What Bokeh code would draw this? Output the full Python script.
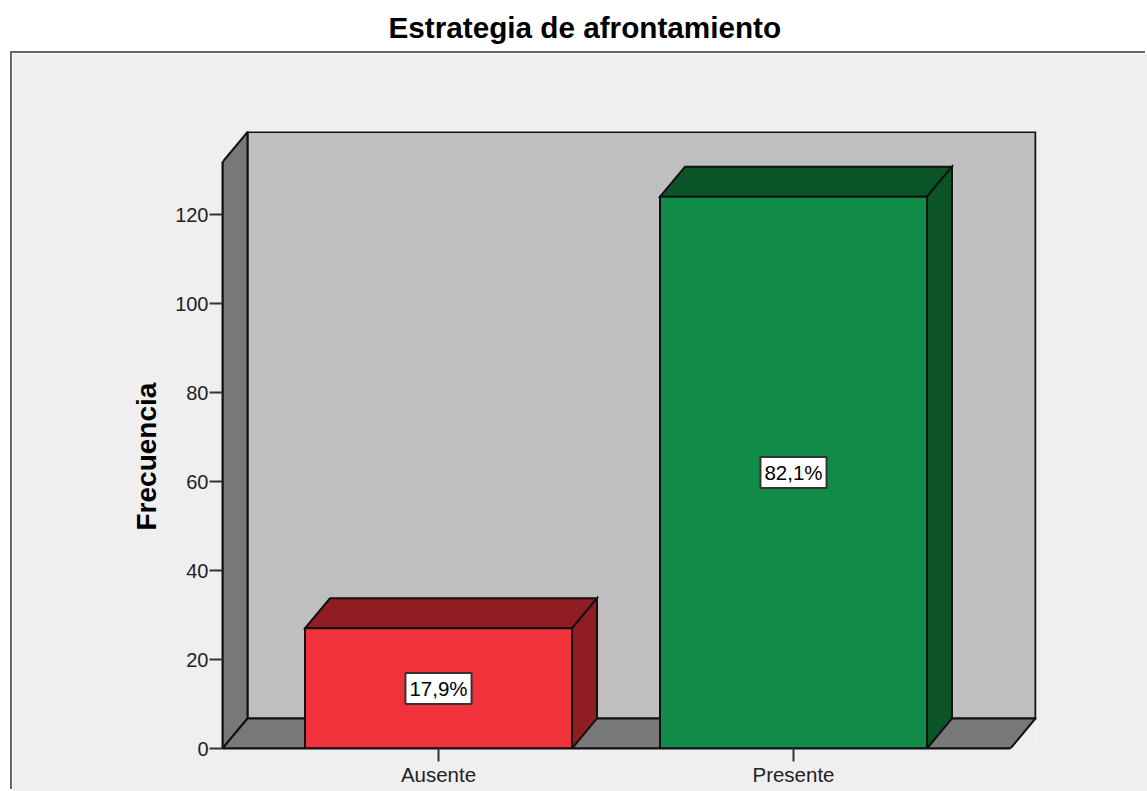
from bokeh.plotting import figure
from bokeh.layouts import column
from bokeh.models import Range1d, FixedTicker, Label, Title
from bokeh.embed import file_html
from bokeh.resources import INLINE

title = "Estrategia de afrontamiento"
y_label = "Frecuencia"
categories = ["Ausente", "Presente"]
counts = [27, 124]
percent_labels = ["17,9%", "82,1%"]
y_ticks = [0, 20, 40, 60, 80, 100, 120]

front_colors = ["#F2323A", "#108C48"]
side_colors = ["#8F1D21", "#0A5428"]
WALL = "#BFBFBF"
SIDE = "#787878"
PANEL = "#EFEFEF"
FONT = "Liberation Sans"

# Scale: 355 px per category, 4.45 px per count
PX_X = 355.0
PX_Y = 4.45
dx = 25 / PX_X          # 3D depth in x units
dy = 30 / PX_Y          # 3D depth in y units
bar_w = 267 / PX_X
x_min = -216 / PX_X
x_axis_end = 572 / PX_X
x_max = 598 / PX_X
y_wall = 131.8          # height of the front edge of the left wall

head = figure(
    width=1147, height=53, output_backend="svg", toolbar_location=None,
    x_axis_type=None, y_axis_type=None, min_border=0,
    border_fill_color="white", background_fill_color="white", outline_line_color=None,
)
head.grid.visible = False
head.title.text = title
head.title.text_font = FONT
head.title.text_font_size = "29.7px"
head.title.text_font_style = "bold"
head.title.text_color = "black"
head.title.align = "left"
head.title.offset = 178
head.title.standoff = 20

p = figure(
    width=1135, height=738, output_backend="svg", toolbar_location=None,
    x_range=Range1d(x_min, x_max), y_range=Range1d(0, 617 / PX_Y),
    min_border_left=210, min_border_right=111, min_border_top=78, min_border_bottom=43,
    border_fill_color=PANEL, background_fill_color=PANEL, outline_line_color=None,
    margin=(0, 0, 0, 12), styles={"box-shadow": "-2px -2px 0 0 #666666"},
)
p.grid.visible = False

line = dict(line_color="#111111", line_width=2, line_join="miter")

# back wall, left wall, floor
p.patch([x_min + dx, x_axis_end + dx, x_axis_end + dx, x_min + dx], [dy, dy, y_wall + dy, y_wall + dy], fill_color=WALL, **line)
p.patch([x_min, x_min + dx, x_min + dx, x_min], [0, dy, y_wall + dy, y_wall], fill_color=SIDE, **line)
p.patch([x_min, x_axis_end, x_axis_end + dx, x_min + dx], [0, 0, dy, dy], fill_color=SIDE, **line)

# bars
for i, c in enumerate(counts):
    l, r = i - bar_w / 2, i + bar_w / 2
    p.patch([l, r, r + dx, l + dx], [c, c, c + dy, c + dy], fill_color=side_colors[i], **line)
    p.patch([r, r + dx, r + dx, r], [0, dy, c + dy, c], fill_color=side_colors[i], **line)
    p.patch([l, r, r, l], [0, 0, c, c], fill_color=front_colors[i], **line)
    p.add_layout(Label(
        x=i, y=c / 2, text=percent_labels[i], text_align="center", text_baseline="middle",
        text_font=FONT, text_font_size="20.5px", text_color="black", padding=4,
        background_fill_color="white", border_line_color="#333333", border_line_width=2,
    ))

xa = p.xaxis[0]
xa.ticker = FixedTicker(ticks=list(range(len(categories))))
xa.major_label_overrides = {i: c for i, c in enumerate(categories)}
xa.bounds = (x_min, x_axis_end)
xa.major_tick_out = 13
xa.major_tick_in = 0
xa.minor_tick_line_color = None
xa.axis_line_width = 2
xa.major_tick_line_width = 2
xa.axis_line_color = "#111111"
xa.major_tick_line_color = "#333333"
xa.major_label_text_font = FONT
xa.major_label_text_font_size = "20.5px"
xa.major_label_text_color = "#222222"
xa.major_label_standoff = 1

ya = p.yaxis[0]
ya.ticker = FixedTicker(ticks=y_ticks)
ya.bounds = (0, y_wall)
ya.major_tick_out = 13
ya.major_tick_in = 0
ya.minor_tick_line_color = None
ya.axis_line_width = 2
ya.major_tick_line_width = 2
ya.axis_line_color = "#111111"
ya.major_tick_line_color = "#333333"
ya.major_label_text_font = FONT
ya.major_label_text_font_size = "20px"
ya.major_label_text_color = "#222222"
ya.major_label_standoff = 1

# y-axis title, placed along the axis line rather than centred on the plot frame
p.add_layout(Title(
    text=y_label, align="left", offset=218, standoff=21,
    text_font=FONT, text_font_size="28px", text_font_style="bold", text_color="black",
), "left")

open("out.html", "w").write(file_html(column(head, p, spacing=0), INLINE))
